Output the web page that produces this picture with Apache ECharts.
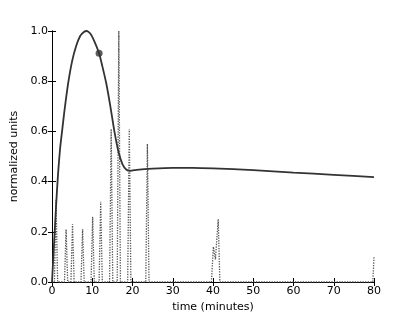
<!DOCTYPE html>
<html>
<head>
<meta charset="utf-8">
<script src="https://cdn.jsdelivr.net/npm/echarts@6/dist/echarts.min.js"></script>
<style>
  html, body { margin: 0; padding: 0; background: #fff; }
  #chart { width: 415px; height: 313px; }
</style>
</head>
<body>
<div id="chart"></div>
<script>
// solid curve
var curveT = [0, 0.5, 1, 1.5, 2, 2.5, 3, 4, 5, 6, 7, 8, 8.6, 9.5, 10.5, 11.7, 12.5, 13.5, 14.5, 15.5, 16.5, 17.5, 18.5, 19.5, 21, 25, 30, 35, 40, 50, 60, 70, 80];
var curveY = [0, 0.15, 0.3, 0.43, 0.53, 0.6, 0.67, 0.79, 0.88, 0.94, 0.98, 0.997, 1.0, 0.99, 0.96, 0.911, 0.86, 0.79, 0.7, 0.6, 0.52, 0.47, 0.447, 0.443, 0.447, 0.452, 0.455, 0.455, 0.453, 0.446, 0.436, 0.427, 0.418];

// marked point on the curve
var markT = [11.7];
var markY = [0.911];

// dotted trace (spikes)
var spikeT = [0, 0.6, 1.0, 1.4, 3.1, 3.5, 3.9, 4.7, 5.1, 5.5, 7.2, 7.6, 8.0, 9.7, 10.1, 10.5, 11.7, 12.1, 12.5, 14.3, 14.7, 15.1, 16.2, 16.6, 17.0, 18.8, 19.2, 19.6, 23.3, 23.7, 24.1, 39.6, 40.1, 40.6, 41.3, 41.7, 79.7, 80];
var spikeY = [0, 0, 0.33, 0, 0, 0.21, 0, 0, 0.23, 0, 0, 0.21, 0, 0, 0.26, 0, 0, 0.32, 0, 0, 0.61, 0, 0, 1.0, 0, 0, 0.61, 0, 0, 0.55, 0, 0, 0.14, 0.09, 0.25, 0, 0, 0.1];

var xTicks = [0, 10, 20, 30, 40, 50, 60, 70, 80];
var yTicks = [0.0, 0.2, 0.4, 0.6, 0.8, 1.0];

function pairs(xs, ys) {
  var out = [];
  for (var i = 0; i < xs.length; i++) {
    out.push([xs[i], ys[i]]);
  }
  return out;
}

var font = 'DejaVu Sans';
var chart = echarts.init(document.getElementById('chart'));

function frameAxis(extra) {
  var ax = {
    type: 'value',
    axisLine: {show: true, lineStyle: {color: '#000', width: 1}},
    axisTick: {show: true, inside: true, length: 4, lineStyle: {color: '#000'}},
    splitLine: {show: false},
    axisLabel: {show: false}
  };
  for (var k in extra) ax[k] = extra[k];
  return ax;
}

var option = {
  animation: false,
  backgroundColor: '#fff',
  grid: {left: 52, right: 41, top: 31, bottom: 31, outerBoundsMode: 'none', containLabel: false},
  xAxis: [
    frameAxis({
      min: 0, max: 80, interval: 10, position: 'bottom',
      name: 'time (minutes)', nameLocation: 'middle', nameGap: 18,
      nameTextStyle: {fontFamily: font, fontSize: 11, color: '#000'},
      axisLabel: {
        show: true, margin: 4, fontFamily: font, fontSize: 11, color: '#000',
        formatter: function(v) { return xTicks.indexOf(v) >= 0 ? String(v) : ''; }
      }
    }),
    frameAxis({min: 0, max: 80, interval: 10, position: 'top'})
  ],
  yAxis: [
    frameAxis({
      min: 0, max: 1, interval: 0.2, position: 'left',
      name: 'normalized units', nameLocation: 'middle', nameGap: 30,
      nameTextStyle: {fontFamily: font, fontSize: 11, color: '#000'},
      axisLabel: {
        show: true, margin: 4, fontFamily: font, fontSize: 11, color: '#000',
        formatter: function(v) { return v.toFixed(1); }
      }
    }),
    frameAxis({min: 0, max: 1, interval: 0.2, position: 'right'})
  ],
  series: [
    {
      type: 'line',
      data: pairs(spikeT, spikeY),
      showSymbol: false,
      lineStyle: {color: '#555', width: 1.3, type: 'dotted'},
      z: 1
    },
    {
      type: 'line',
      data: pairs(curveT, curveY),
      smooth: 0.2,
      showSymbol: false,
      lineStyle: {color: '#333', width: 1.8},
      z: 2
    },
    {
      type: 'scatter',
      data: pairs(markT, markY),
      symbolSize: 7,
      itemStyle: {color: '#333'},
      z: 3
    }
  ]
};

chart.setOption(option);
</script>
</body>
</html>
